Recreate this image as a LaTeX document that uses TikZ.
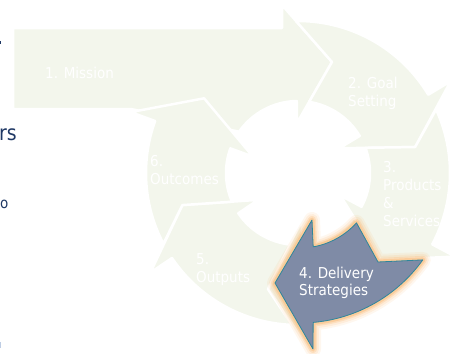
\documentclass[tikz,border=0pt]{standalone}
\usepackage{fontspec}
\setmainfont{DejaVu Sans}[FakeStretch=0.9]
\usepackage{tikz}
\usetikzlibrary{calc}
\definecolor{palegreen}{RGB}{243, 246, 236}
\definecolor{slateblue}{RGB}{127, 139, 166}
\definecolor{tealedge}{RGB}{46, 134, 155}
\definecolor{glowpeach}{RGB}{250, 190, 125}
\definecolor{slidenavy}{RGB}{31, 56, 100}
\definecolor{slidesky}{RGB}{190, 205, 228}

\newcommand{\cyclearrow}[2]{($(hub)+({#1+10.5}:72)$) arc[start angle={#1+10.5}, end angle={#2}, radius=72]
  -- ($(hub)+({#2}:48)$) -- ($(hub)+({#2+18.5}:120)$) -- ($(hub)+({#2}:178)$)
  -- ($(hub)+({#2}:152)$) arc[start angle={#2}, end angle={#1+6.3}, radius=152]
  -- ($(hub)+({#1+18.5}:120)$) -- cycle}
\newcommand{\deliverypath}{(275,283) -- (312,220) -- ($(300,172)+(80:76)$) arc[start angle=80, end angle=42, radius=76]
  -- (378,262) -- ($(300,172)+(35.6:151)$) arc[start angle=35.6, end angle=85, radius=151]
  -- (313,349) -- cycle}

\begin{document}
\begin{tikzpicture}[x=1pt, y=-1pt,
  palearrow/.style={fill=palegreen, draw=white, line width=2.5pt, line join=round},
  paletext/.style={anchor=base west, inner sep=0pt, align=left, text=white, font=\fontsize{15}{18}\selectfont},
  slidetext/.style={anchor=base west, inner sep=0pt, text=slidenavy}
]
  \useasboundingbox (0,0) rectangle (451,354);
  \clip (0,0) rectangle (451,354);
  \coordinate (hub) at (298,173);

  \draw[palearrow] (13,28) -- (282,28) -- (282,5) -- (332,62) -- (297,123) -- ($(hub)+(269:72)$)
    arc[start angle=269, end angle=215, radius=72] -- (131,109) -- (13,109) -- cycle;
  \draw[palearrow] ($(hub)+(278.9:72)$) arc[start angle=278.9, end angle=329, radius=72]
    -- ($(hub)+(329:48)$) -- ($(hub)+(347.5:120)$) -- ($(hub)+(329:178)$)
    -- ($(hub)+(329:152)$) arc[start angle=329, end angle=269.25, radius=152] -- (332,62) -- cycle;
  \draw[palearrow] \cyclearrow{329}{388};
  \draw[palearrow] \cyclearrow{388}{446};
  \draw[palearrow] \cyclearrow{446}{506};
  \draw[palearrow] \cyclearrow{506}{560};

  \foreach \w/\o in {16/0.12, 12/0.18, 8/0.3, 5/0.5}
    \draw[glowpeach, line width=\w pt, line join=round, opacity=\o] \deliverypath;
  \fill[slateblue] \deliverypath;
  \draw[tealedge, line width=0.8pt, line join=round] \deliverypath;

  \node[paletext] (mission) at (45,78) {1. Mission};
  \node[paletext] (goal) at (348,106) {2. Goal\\Setting};
  \node[paletext] (products) at (383,226) {3.\\Products\\\&\\Services};
  \node[paletext, font=\fontsize{15}{17}\selectfont] (delivery) at (299,295) {4. Delivery\\Strategies};
  \node[paletext] (outputs) at (196,282) {5.\\Outputs};
  \node[paletext] (outcomes) at (150,184) {6.\\Outcomes};

  \node[slidetext, font=\fontsize{21}{25}\selectfont] (partners) at (-1,140) {rs};
  \node[slidetext, font=\fontsize{15}{18}\selectfont] (into) at (0,208) {o};
  \fill[slidenavy] (0,41) rectangle (1.2,43.5);
  \fill[slidesky] (0,342) rectangle (1.2,348);
\end{tikzpicture}
\end{document}
